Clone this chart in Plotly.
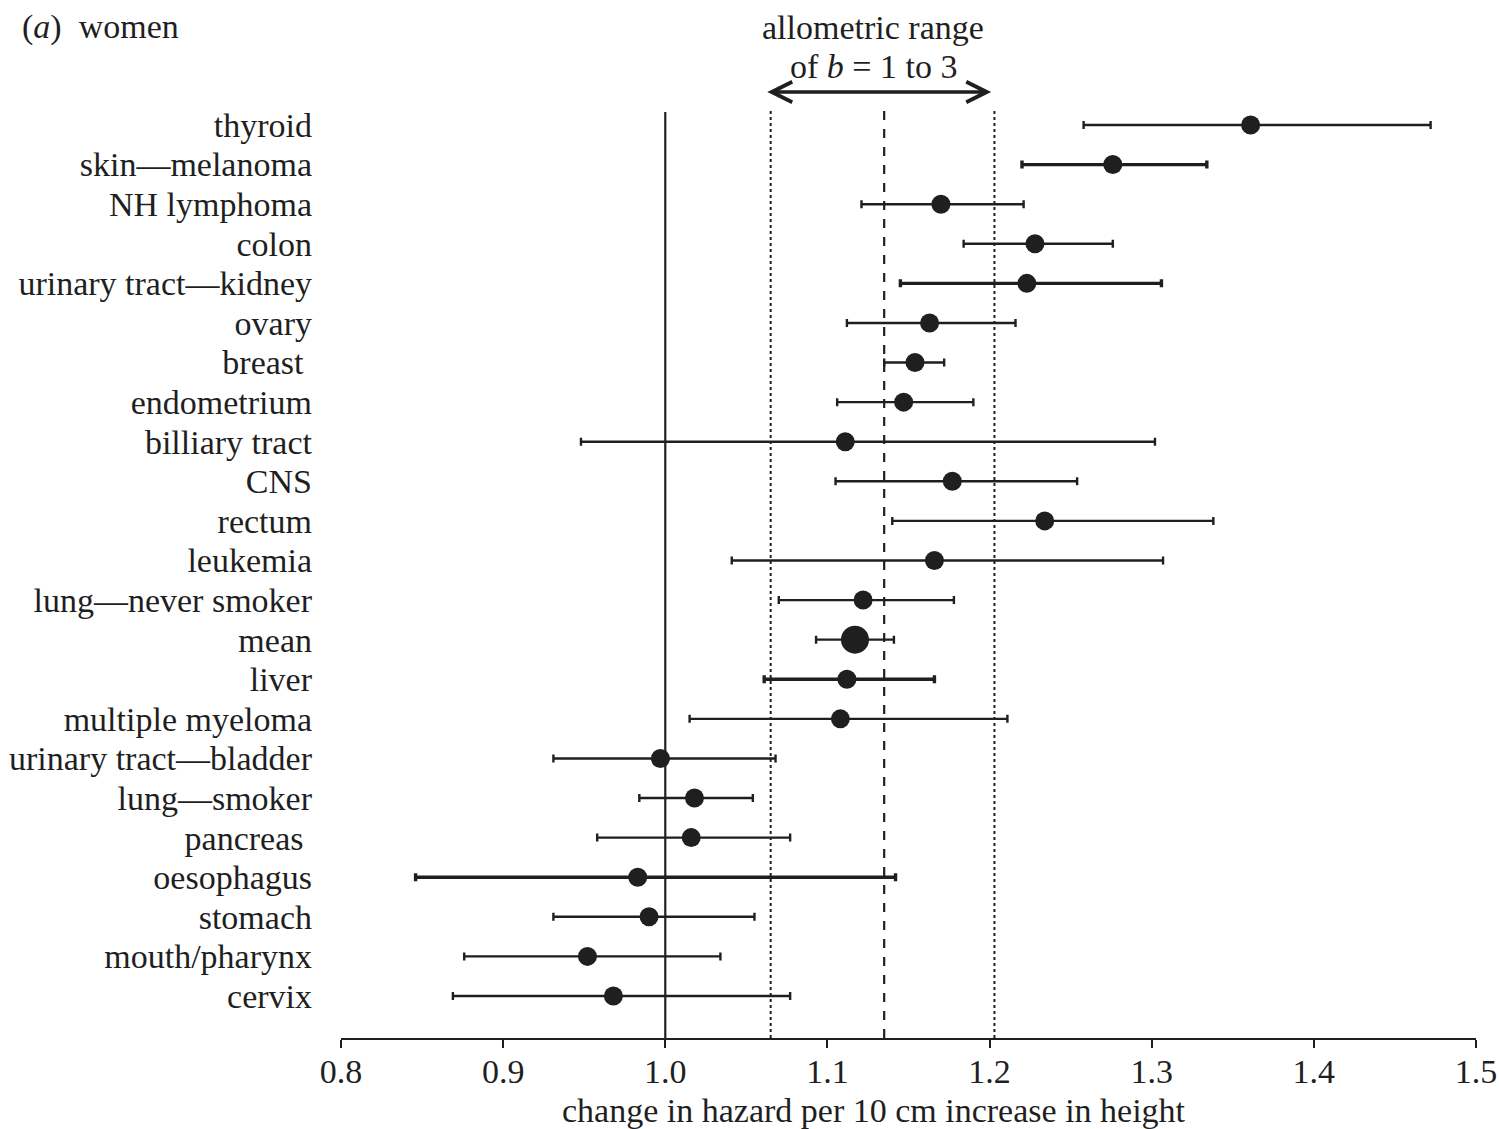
import plotly.graph_objects as go

# ---------------- data ----------------
categories = ["thyroid", "skin\u2014melanoma", "NH lymphoma", "colon", "urinary tract\u2014kidney",
              "ovary", "breast\u00a0", "endometrium", "billiary tract", "CNS", "rectum", "leukemia",
              "lung\u2014never smoker", "mean", "liver", "multiple myeloma", "urinary tract\u2014bladder",
              "lung\u2014smoker", "pancreas\u00a0", "oesophagus", "stomach", "mouth/pharynx", "cervix"]
estimate = [1.361, 1.276, 1.170, 1.228, 1.223, 1.163, 1.154, 1.147, 1.111, 1.177, 1.234, 1.166,
            1.122, 1.117, 1.112, 1.108, 0.997, 1.018, 1.016, 0.983, 0.990, 0.952, 0.968]
lower = [1.258, 1.220, 1.121, 1.184, 1.145, 1.112, 1.135, 1.106, 0.948, 1.105, 1.140, 1.041,
         1.070, 1.093, 1.061, 1.015, 0.931, 0.984, 0.958, 0.846, 0.931, 0.876, 0.869]
upper = [1.472, 1.334, 1.221, 1.276, 1.306, 1.216, 1.172, 1.190, 1.302, 1.254, 1.338, 1.307,
         1.178, 1.141, 1.166, 1.211, 1.068, 1.054, 1.077, 1.142, 1.055, 1.034, 1.077]
x_ticks = [0.8, 0.9, 1.0, 1.1, 1.2, 1.3, 1.4, 1.5]
null_value = 1.0
allometric_low = 1.065
allometric_mid = 1.135
allometric_high = 1.203
x_title = "change in hazard per 10 cm increase in height"

# ---------------- style ----------------
INK = "#1f1f1f"
FONT = "Liberation Serif"
FS = 34
thick_rows = {"skin\u2014melanoma", "urinary tract\u2014kidney", "liver", "oesophagus"}
big_rows = {"mean"}

W, H = 1499, 1129
L, T = 341, 10
R = W - 1476
B = H - 1038
plot_w = W - L - R
plot_h = H - T - B


def py(p):  # pixel y -> paper
    return (H - B - p) / plot_h


def px(p):  # pixel x -> paper
    return (p - L) / plot_w


fig = go.Figure()
for cat, est, lo, hi in zip(categories, estimate, lower, upper):
    fig.add_trace(go.Scatter(
        x=[est], y=[cat], mode="markers",
        marker=dict(color=INK, size=28 if cat in big_rows else 19, line=dict(width=0)),
        error_x=dict(type="data", symmetric=False, array=[hi - est], arrayminus=[est - lo],
                     color=INK, thickness=3.4 if cat in thick_rows else 2.4, width=4),
        showlegend=False, hoverinfo="skip",
    ))

row0, step = 125, 39.59
y_bottom = (H - B - row0) / step
y_top = (T - row0) / step

line_top = py(110)
fig.add_shape(type="line", xref="x", yref="paper", x0=null_value, x1=null_value, y0=0, y1=py(112),
              line=dict(color=INK, width=2.2), layer="below")
fig.add_shape(type="line", xref="x", yref="paper", x0=allometric_mid, x1=allometric_mid, y0=0, y1=line_top,
              line=dict(color=INK, width=2.2, dash="dash"), layer="below")
for v in (allometric_low, allometric_high):
    fig.add_shape(type="line", xref="x", yref="paper", x0=v, x1=v, y0=0, y1=line_top,
                  line=dict(color=INK, width=2, dash="dot"), layer="below")

# double-headed arrow
fig.add_annotation(x=allometric_high - 0.002, y=py(92), xref="x", yref="paper",
                   ax=allometric_low - 0.003, ay=0, axref="x", ayref="pixel",
                   text="", showarrow=True, arrowside="end+start",
                   arrowhead=5, startarrowhead=5, arrowsize=1.15, startarrowsize=1.15,
                   arrowwidth=3.5, arrowcolor=INK, standoff=0, startstandoff=0)

fig.add_annotation(x=px(873), y=py(27), xref="paper", yref="paper", text="allometric range",
                   showarrow=False, font=dict(family=FONT, size=FS, color=INK), xanchor="center", yanchor="middle")
fig.add_annotation(x=px(873), y=py(66), xref="paper", yref="paper", text="of <i>b</i> = 1 to 3",
                   showarrow=False, font=dict(family=FONT, size=FS, color=INK), xanchor="center", yanchor="middle")
fig.add_annotation(x=px(20), y=py(27), xref="paper", yref="paper", text="(<i>a</i>)\u00a0 women",
                   showarrow=False, font=dict(family=FONT, size=FS, color=INK), xanchor="left", yanchor="middle")
fig.add_annotation(x=px(874), y=py(1110), xref="paper", yref="paper", text=x_title,
                   showarrow=False, font=dict(family=FONT, size=FS, color=INK), xanchor="center", yanchor="middle")

fig.update_layout(
    width=W, height=H,
    margin=dict(l=L, r=R, t=T, b=B, autoexpand=False),
    paper_bgcolor="white", plot_bgcolor="white",
    font=dict(family=FONT, size=FS, color=INK),
    xaxis=dict(range=[0.8, 1.5], tickvals=x_ticks, ticktext=[f"{v:.1f}" for v in x_ticks],
               ticks="outside", ticklen=8, tickwidth=2, tickcolor=INK, ticklabelstandoff=-6,
               showline=True, linecolor=INK, linewidth=2, showgrid=False, zeroline=False,
               tickfont=dict(family=FONT, size=FS, color=INK),
               automargin=False),
    yaxis=dict(type="category", categoryorder="array", categoryarray=categories,
               tickmode="array", tickvals=categories, ticktext=categories,
               range=[y_bottom, y_top], showline=False, showgrid=False, zeroline=False,
               ticks="", ticklabelstandoff=28, tickfont=dict(family=FONT, size=FS, color=INK),
               automargin=False),
)

fig.write_html("out.html", config={"displayModeBar": False},
               post_script="document.body.style.margin='0';document.body.style.padding='0';"
                           "document.documentElement.style.overflow='hidden';")
